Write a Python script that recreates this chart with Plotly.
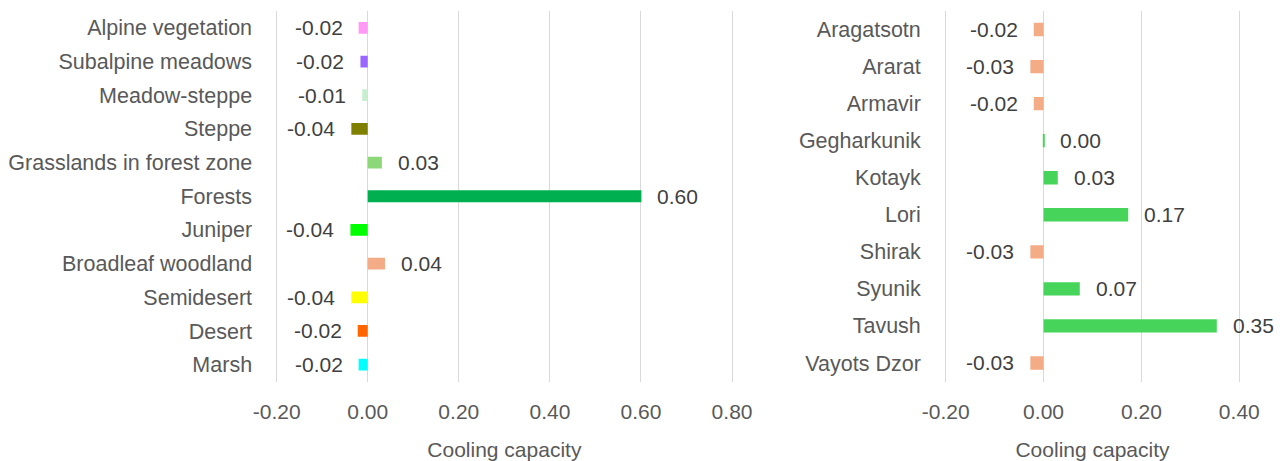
import plotly.graph_objects as go

# Left panel: vegetation types
veg_types = ["Alpine vegetation", "Subalpine meadows", "Meadow-steppe", "Steppe",
             "Grasslands in forest zone", "Forests", "Juniper", "Broadleaf woodland",
             "Semidesert", "Desert", "Marsh"]
veg_values = [-0.020, -0.016, -0.012, -0.036, 0.031, 0.601, -0.038, 0.038, -0.036, -0.022, -0.020]
veg_colors = ["#FF99F5", "#9966FF", "#C6EFCE", "#808000", "#8CD878", "#00B050",
              "#00FF00", "#F4AC86", "#FFFF00", "#FF6600", "#00FFFF"]

# Right panel: provinces
provinces = ["Aragatsotn", "Ararat", "Armavir", "Gegharkunik", "Kotayk", "Lori",
             "Shirak", "Syunik", "Tavush", "Vayots Dzor"]
prov_values = [-0.020, -0.027, -0.020, 0.001, 0.029, 0.173, -0.027, 0.074, 0.354, -0.027]

x_title = "Cooling capacity"
left_ticks = [-0.2, 0.0, 0.2, 0.4, 0.6, 0.8]
right_ticks = [-0.2, 0.0, 0.2, 0.4]

POS = "#47D45A"
NEG = "#F4AC86"
prov_colors = [POS if v > 0 else NEG for v in prov_values]

FONT = "Liberation Sans, Arial, sans-serif"
LBL = "#595959"
DLBL = "#404040"
FS = 21
FSY = 21.5


def fmt(v):
    return f"{v:.2f}"


fig = go.Figure()
fig.add_trace(go.Bar(x=veg_values, y=veg_types, orientation="h",
                     marker=dict(color=veg_colors, line=dict(width=0)),
                     width=0.35, xaxis="x", yaxis="y", showlegend=False))
fig.add_trace(go.Bar(x=prov_values, y=provinces, orientation="h",
                     marker=dict(color=prov_colors, line=dict(width=0)),
                     width=0.36, xaxis="x2", yaxis="y2", showlegend=False))

annotations = []
for cat, v in zip(veg_types, veg_values):
    annotations.append(dict(x=v, y=cat, xref="x", yref="y", text=fmt(v),
                            showarrow=False, xanchor="left" if v >= 0 else "right",
                            xshift=14 if v >= 0 else -14,
                            font=dict(family=FONT, size=FS, color=DLBL)))
for cat, v in zip(provinces, prov_values):
    annotations.append(dict(x=v, y=cat, xref="x2", yref="y2", text=fmt(v),
                            showarrow=False, xanchor="left" if v >= 0 else "right",
                            xshift=14 if v >= 0 else -14,
                            font=dict(family=FONT, size=FS, color=DLBL)))

# page body has an 8px margin: figure paper starts at screen (8, 8)
OFF = 8
W, H = 1286 - OFF, 461 - OFF
ytop = 1 - (11 - OFF) / H
ybot = 1 - (381.5 - OFF) / H


def xdom(a, b):
    return [(a - OFF) / W, (b - OFF) / W]


def xaxis_cfg(ticks):
    return dict(showgrid=True, gridcolor="#D9D9D9", gridwidth=1.3,
                zeroline=True, zerolinecolor="#D9D9D9", zerolinewidth=1.3,
                showline=False, ticks="", automargin=False,
                tickvals=ticks, ticktext=[fmt(t) for t in ticks],
                tickfont=dict(family=FONT, size=FS, color=LBL),
                ticklabelstandoff=15,
                title=dict(text=x_title, font=dict(family=FONT, size=FS, color=LBL),
                           standoff=22))


def yaxis_cfg():
    return dict(domain=[ybot, ytop], autorange="reversed", automargin=False,
                showgrid=False, zeroline=False, showline=False, ticks="",
                ticklabelstandoff=19,
                tickfont=dict(family=FONT, size=FSY, color=LBL))


# pixel mapping: left 455.5 px/unit, right 490 px/unit; ranges padded by 0.01
fig.update_layout(
    width=W, height=H,
    margin=dict(l=0, r=0, t=0, b=0),
    paper_bgcolor="white", plot_bgcolor="white",
    bargap=0.65,
    xaxis=dict(domain=xdom(272.1, 736.6), range=[-0.21, 0.81], anchor="y",
               **xaxis_cfg(left_ticks)),
    yaxis=dict(anchor="x", **yaxis_cfg()),
    xaxis2=dict(domain=xdom(940.8, 1244.2), range=[-0.21, 0.41], anchor="y2",
                **xaxis_cfg(right_ticks)),
    yaxis2=dict(anchor="x2", **yaxis_cfg()),
    annotations=annotations,
)

fig.write_html("out.html")
